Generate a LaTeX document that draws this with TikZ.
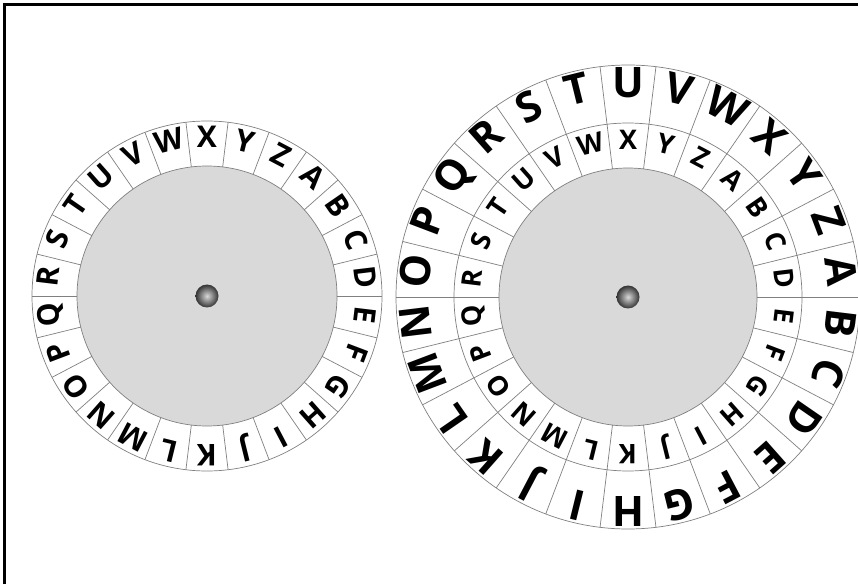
\documentclass[tikz,border=0pt]{standalone}
\usepackage{fontspec}
\setmainfont{Open Sans}
\begin{document}
\begin{tikzpicture}[x=1pt,y=1pt,
  rimline/.style={draw=black!50, line width=0.7pt},
  hubdisc/.style={rimline, fill=black!15},
  letter/.style={inner sep=0pt, text height=0.714em, text depth=0pt, anchor=center, font=\bfseries}]
\useasboundingbox (0,0) rectangle (858,584);
% frame (top and left only)
\draw[line width=2.4pt] (4.5,0) -- (4.5,579.5) -- (858,579.5);

% ring macro: #1 centre, #2 inner r, #3 outer r, #4 index of letter at top, #5 font size, #6 name prefix
\newcommand\cipherring[6]{%
  \foreach \L [count=\i from 0] in {A,B,C,D,E,F,G,H,I,J,K,L,M,N,O,P,Q,R,S,T,U,V,W,X,Y,Z}{%
    \pgfmathsetmacro\ang{90-(\i-#4)*360/26}%
    \pgfmathsetmacro\rmid{(#2+#3)/2}%
    \draw[rimline] ([shift={(\ang+180/26:#2)}]#1) -- ([shift={(\ang+180/26:#3)}]#1);
    \node[letter, rotate=\ang-90, font=\fontsize{#5}{#5}\selectfont\bfseries]
      (#6-\L) at ([shift={(\ang:\rmid)}]#1) {\L};
  }%
}

% ---------- left disc ----------
\coordinate (lc) at (207,288);
\draw[rimline, fill=white] (lc) circle[radius=175];
\draw[hubdisc] (lc) circle[radius=130];
\cipherring{lc}{130}{175}{23}{30}{left}
\shade[inner color=black!15, outer color=black!80] (lc) circle[radius=11.5];
\node[circle, inner sep=0pt, minimum size=23pt] (lhub) at (lc) {};

% ---------- right disc ----------
\coordinate (rc) at (628,287);
\draw[rimline, fill=white] (rc) circle[radius=232];
\draw[rimline] (rc) circle[radius=174];
\draw[hubdisc] (rc) circle[radius=129];
\cipherring{rc}{174}{232}{20}{42}{outer}
\cipherring{rc}{129}{174}{23}{27}{inner}
\shade[inner color=black!15, outer color=black!80] (rc) circle[radius=11.5];
\node[circle, inner sep=0pt, minimum size=23pt] (rhub) at (rc) {};
\end{tikzpicture}
\end{document}
